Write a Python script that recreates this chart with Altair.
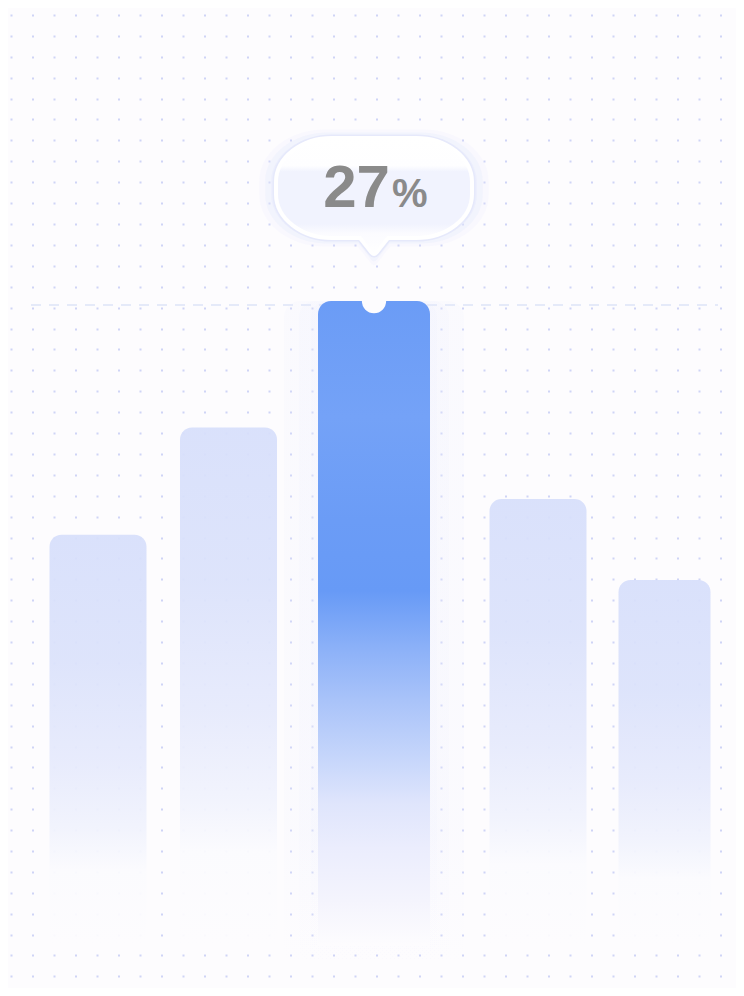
import altair as alt
import pandas as pd

# share of each group, in percent
categories = ["A", "B", "C", "D", "E"]
shares = [17.2, 21.7, 27.0, 18.7, 15.3]

df = pd.DataFrame({"category": categories, "share": shares})
df["idx"] = range(len(df))
df["highlight"] = df["share"] == max(shares)

BG = "#fdfcfe"
W, H = 728, 980
BASE_PX = 937          # pixel row of the zero line
PX_PER_UNIT = 23.85
Y_LO, Y_HI = (BASE_PX - H) / PX_PER_UNIT, BASE_PX / PX_PER_UNIT

y_scale = alt.Scale(domain=[Y_LO, Y_HI], nice=False, zero=False)
# uneven bar spacing; the outer stops keep the grid full width
x_scale = alt.Scale(
    domain=[-1, 0, 1, 2, 3, 4, 5], range=[0, 90, 220.5, 366, 530, 656.5, W],
    padding=0, nice=False, zero=False,
)
width_scale = alt.Scale(domain=[0, 1, 3, 4], range=[97, 97, 97, 92], zero=False, nice=False)

# dotted background: dashed horizontal grid lines
grid_rows = [(BASE_PX - 7 - 20.9 * i) / PX_PER_UNIT for i in range(47)]
y_axis = alt.Axis(
    values=grid_rows, grid=True, gridDash=[2, 19.5], gridDashOffset=19.5,
    gridColor="#cfd4f6", gridWidth=2, domain=False, ticks=False, labels=False, title=""
)

base = alt.Chart(df).encode(
    x=alt.X("idx:Q", scale=x_scale, axis=None),
    y=alt.Y("share:Q", scale=y_scale, axis=y_axis),
)
top = base.transform_filter("datum.highlight")
rest = base.transform_filter("!datum.highlight")


def vgrad(stops):
    return alt.LinearGradient(
        gradient="linear", x1=0, x2=0, y1=0, y2=1,
        stops=[alt.GradientStop(color=c, offset=o) for o, c in stops],
    )


side_fill = vgrad([
    (0, "#d7dffb"), (0.3, "#dbe2fb"), (0.55, "#e6eafc"), (0.72, "#f1f3fd"), (0.82, "#fbfbfe"), (1, BG),
])
main_fill = vgrad([
    (0, "#6b9cf6"), (0.18, "#74a2f7"), (0.34, "#6b9cf6"), (0.45, "#679af6"),
    (0.54, "#8cb1f8"), (0.62, "#a9c3f9"), (0.71, "#c6d6fb"), (0.78, "#dfe5fc"),
    (0.85, "#ebedfd"), (0.93, "#f4f4fd"), (1, BG),
])
halo_fill = vgrad([
    (0, "rgba(230,234,252,0.9)"), (0.8, "rgba(234,237,252,0.9)"), (1, "rgba(240,241,253,0)"),
])

dash_line = top.mark_rule(color="#dde3f8", strokeWidth=1.5, strokeDash=[10, 8], yOffset=4).encode(
    x=alt.value(23), x2=alt.value(710)
)

halos = [
    top.mark_bar(size=s, color=halo_fill, opacity=0.14, cornerRadius=16).encode(y2=alt.datum(Y_LO + 1))
    for s in (180, 150, 126)
]

side_bars = rest.mark_bar(
    color=side_fill, opacity=0.93, cornerRadiusTopLeft=12, cornerRadiusTopRight=12
).encode(y2=alt.datum(0), size=alt.Size("idx:Q", scale=width_scale, legend=None))

main_bar = top.mark_bar(
    size=112, color=main_fill, cornerRadiusTopLeft=13, cornerRadiusTopRight=13
).encode(y2=alt.datum(0))

notch = top.mark_circle(size=590, color=BG, opacity=1)


def bubble_shape(a=0.98, b=0.5, rx=0.56, ry=0.44, k=0.5523):
    # rounded speech bubble with a pointer, in units of 100 px
    p = lambda x, y: f"{x:.3f},{y:.3f}"
    return " ".join([
        "M", p(-a + rx, -b), "L", p(a - rx, -b),
        "C", p(a - rx + k * rx, -b), p(a, -b + ry - k * ry), p(a, -b + ry),
        "L", p(a, b - ry),
        "C", p(a, b - ry + k * ry), p(a - rx + k * rx, b), p(a - rx, b),
        "L", p(0.14, b), "L", p(0.025, 0.645), "Q", p(0, 0.675), p(-0.025, 0.645),
        "L", p(-0.14, b), "L", p(-a + rx, b),
        "C", p(-a + rx - k * rx, b), p(-a, b - ry + k * ry), p(-a, b - ry),
        "L", p(-a, -b + ry),
        "C", p(-a, -b + ry - k * ry), p(-a + rx - k * rx, -b), p(-a + rx, -b), "Z",
    ])


bubble_path = bubble_shape()
bubble_fill = vgrad([
    (0, "#ffffff"), (0.24, "#fefeff"), (0.29, "#f1f3fe"), (0.74, "#f1f3fe"), (0.82, "#fbfbff"), (1, "#ffffff"),
])
glows = [
    top.mark_point(shape=bubble_path, size=40000 * k * k, filled=True, fill="#e4e8fc",
                   opacity=o, yOffset=-113)
    for k, o in ((1.17, 0.16), (1.11, 0.28), (1.05, 0.42))
]
ring = top.mark_point(
    shape=bubble_path, size=40000, filled=True, fill="#ffffff", stroke="#e6e9fb",
    strokeWidth=7, opacity=1, yOffset=-113
)
bubble = top.mark_point(
    shape=bubble_path, size=40000, filled=True, fill=bubble_fill, stroke="#ffffff",
    strokeWidth=4, opacity=1, yOffset=-113
)

num_text = top.mark_text(
    align="right", baseline="alphabetic", dx=16, dy=-94, font="Liberation Sans",
    fontSize=60, fontWeight="bold", color="#8a8a8a"
).encode(text=alt.Text("share:Q", format=".0f"))
pct_text = top.mark_text(
    align="left", baseline="alphabetic", dx=18, dy=-94, font="Liberation Sans",
    fontSize=40, fontWeight="bold", color="#8a8a8a"
).encode(text=alt.value("%"))

chart = alt.layer(
    dash_line, *halos, side_bars, main_bar, notch, *glows, ring, bubble, num_text, pct_text
).properties(
    width=W, height=H, padding=0, autosize="none", background=BG
).configure_view(strokeWidth=0)

chart.save("out.html", embed_options={"renderer": "svg", "actions": False})
